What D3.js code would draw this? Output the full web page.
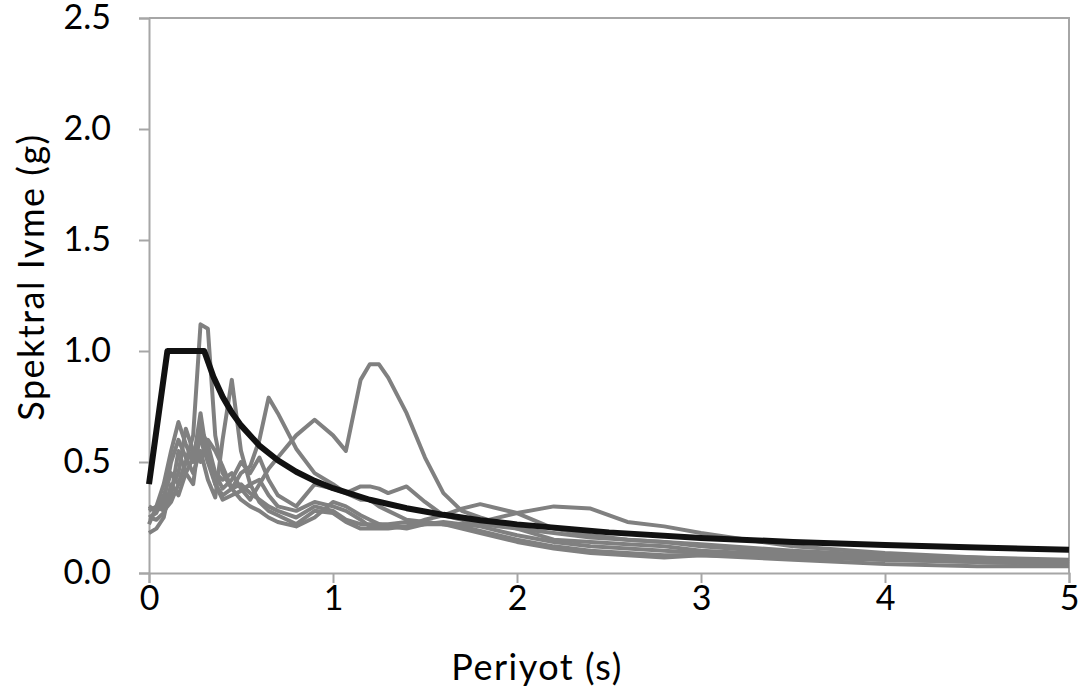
<!DOCTYPE html>
<html>
<head>
<meta charset="utf-8">
<script src="https://cdnjs.cloudflare.com/ajax/libs/d3/7.8.5/d3.min.js"></script>
<style>
  body { margin: 0; background: #fff; }
  text { font-family: Lato, "Open Sans", sans-serif; fill: #000; }
</style>
</head>
<body>
<div id="chart"></div>
<script>
// periods (s) shared by the gray records
const periods = [0, 0.04, 0.08, 0.12, 0.16, 0.2, 0.24, 0.28, 0.32, 0.36, 0.4, 0.45, 0.5, 0.55, 0.6, 0.65, 0.7, 0.8, 0.9, 1.0,
  1.07, 1.15, 1.2, 1.25, 1.3, 1.4, 1.5, 1.6, 1.7, 1.8, 2.0, 2.2, 2.4, 2.6, 2.8, 3.0, 3.5, 4.0, 4.5, 5.0];

const rec1 = [0.25, 0.27, 0.35, 0.45, 0.40, 0.50, 0.62, 1.12, 1.10, 0.62, 0.45, 0.38, 0.40, 0.36, 0.33, 0.30, 0.28, 0.25, 0.30, 0.28,
  0.24, 0.22, 0.22, 0.22, 0.21, 0.20, 0.22, 0.23, 0.22, 0.21, 0.17, 0.14, 0.12, 0.11, 0.10, 0.09, 0.08, 0.06, 0.05, 0.04];
const rec2 = [0.30, 0.28, 0.32, 0.50, 0.60, 0.52, 0.45, 0.55, 0.42, 0.34, 0.60, 0.87, 0.55, 0.40, 0.42, 0.35, 0.30, 0.28, 0.32, 0.30,
  0.28, 0.24, 0.21, 0.21, 0.21, 0.21, 0.24, 0.26, 0.29, 0.31, 0.27, 0.20, 0.17, 0.15, 0.14, 0.12, 0.09, 0.07, 0.06, 0.05];
const rec3 = [0.22, 0.30, 0.40, 0.55, 0.68, 0.58, 0.50, 0.72, 0.50, 0.40, 0.35, 0.38, 0.45, 0.48, 0.60, 0.79, 0.72, 0.56, 0.45, 0.40,
  0.36, 0.39, 0.39, 0.38, 0.36, 0.39, 0.32, 0.26, 0.24, 0.22, 0.20, 0.18, 0.16, 0.15, 0.14, 0.13, 0.10, 0.08, 0.07, 0.06];
const rec4 = [0.28, 0.30, 0.28, 0.32, 0.40, 0.50, 0.55, 0.60, 0.50, 0.45, 0.42, 0.45, 0.38, 0.33, 0.40, 0.47, 0.52, 0.62, 0.69, 0.62,
  0.55, 0.87, 0.94, 0.94, 0.88, 0.72, 0.52, 0.36, 0.28, 0.25, 0.20, 0.15, 0.14, 0.13, 0.12, 0.10, 0.08, 0.06, 0.05, 0.04];
const rec5 = [0.18, 0.20, 0.25, 0.40, 0.35, 0.45, 0.52, 0.62, 0.55, 0.40, 0.33, 0.35, 0.37, 0.40, 0.32, 0.28, 0.26, 0.22, 0.28, 0.27,
  0.23, 0.20, 0.20, 0.20, 0.20, 0.21, 0.22, 0.22, 0.22, 0.23, 0.27, 0.30, 0.29, 0.23, 0.21, 0.18, 0.12, 0.09, 0.07, 0.05];
const rec6 = [0.25, 0.24, 0.27, 0.35, 0.55, 0.45, 0.40, 0.65, 0.58, 0.45, 0.38, 0.42, 0.50, 0.45, 0.52, 0.42, 0.35, 0.30, 0.40, 0.38,
  0.36, 0.33, 0.33, 0.30, 0.28, 0.24, 0.23, 0.22, 0.21, 0.19, 0.15, 0.12, 0.10, 0.09, 0.08, 0.08, 0.07, 0.06, 0.06, 0.05];
const rec7 = [0.30, 0.28, 0.30, 0.38, 0.45, 0.65, 0.55, 0.50, 0.60, 0.55, 0.48, 0.38, 0.33, 0.30, 0.28, 0.25, 0.23, 0.21, 0.25, 0.32,
  0.30, 0.26, 0.24, 0.22, 0.22, 0.23, 0.23, 0.22, 0.20, 0.18, 0.14, 0.11, 0.09, 0.08, 0.07, 0.08, 0.06, 0.04, 0.03, 0.03];
const records = [rec1, rec2, rec3, rec4, rec5, rec6, rec7];

// design spectrum (black)
const designT = [0, 0.1, 0.3, 0.35, 0.4, 0.45, 0.5, 0.6, 0.7, 0.8, 0.9, 1.0, 1.2, 1.4, 1.6, 1.8, 2.0, 2.5, 3.0, 3.5, 4.0, 4.5, 5.0];
const designSa = [0.4, 1.0, 1.0, 0.884, 0.794, 0.723, 0.665, 0.574, 0.508, 0.456, 0.415, 0.382, 0.330, 0.292, 0.262, 0.238, 0.219,
  0.183, 0.158, 0.140, 0.126, 0.115, 0.105];

const xTicks = [0, 1, 2, 3, 4, 5];
const yTicks = [0, 0.5, 1.0, 1.5, 2.0, 2.5];

const width = 1086, height = 697;
const plotLeft = 149, plotRight = 1069, plotTop = 18, plotBottom = 573;
const axisColor = "#a6a6a6";

const svg = d3.select("#chart").append("svg")
  .attr("width", width)
  .attr("height", height);

const x = d3.scaleLinear().domain([0, 5]).range([plotLeft, plotRight]);
const y = d3.scaleLinear().domain([0, 2.5]).range([plotBottom, plotTop]);

// plot area border (top + right)
svg.append("path")
  .attr("d", "M" + plotLeft + "," + plotTop + "H" + plotRight + "V" + plotBottom)
  .attr("fill", "none")
  .attr("stroke", axisColor)
  .attr("stroke-width", 2);

// y axis
const yAxis = svg.append("g")
  .attr("transform", "translate(" + plotLeft + ",0)")
  .call(d3.axisLeft(y).tickValues(yTicks).tickFormat(d3.format(".1f")).tickSize(10).tickPadding(28));
yAxis.select(".domain").attr("stroke", axisColor).attr("stroke-width", 2);
yAxis.selectAll(".tick line").attr("stroke", axisColor).attr("stroke-width", 2);
yAxis.selectAll("text").style("font-size", "34px").attr("fill", "#000");

// x axis
const xAxis = svg.append("g")
  .attr("transform", "translate(0," + plotBottom + ")")
  .call(d3.axisBottom(x).tickValues(xTicks).tickFormat(d3.format("d")).tickSize(10).tickPadding(3));
xAxis.select(".domain").attr("stroke", axisColor).attr("stroke-width", 2);
xAxis.selectAll(".tick line").attr("stroke", axisColor).attr("stroke-width", 2);
xAxis.selectAll("text").style("font-size", "34px").attr("fill", "#000");

// lines
const line = d3.line()
  .x(d => x(d[0]))
  .y(d => y(d[1]));

svg.append("g").selectAll("path")
  .data(records)
  .enter().append("path")
  .attr("d", r => line(r.map((v, i) => [periods[i], v])))
  .attr("fill", "none")
  .attr("stroke", "#808080")
  .attr("stroke-width", 4)
  .attr("stroke-linejoin", "round");

svg.append("path")
  .attr("d", line(designSa.map((v, i) => [designT[i], v])))
  .attr("fill", "none")
  .attr("stroke", "#111")
  .attr("stroke-width", 6)
  .attr("stroke-linejoin", "round");

// axis titles
svg.append("text")
  .attr("x", 537)
  .attr("y", 680)
  .attr("text-anchor", "middle")
  .style("font-size", "36px")
  .style("letter-spacing", "1.5px")
  .text("Periyot (s)");

svg.append("text")
  .attr("transform", "translate(44,277) rotate(-90)")
  .attr("text-anchor", "middle")
  .style("font-size", "36px")
  .style("letter-spacing", "1.5px")
  .text("Spektral Ivme (g)");
</script>
</body>
</html>
